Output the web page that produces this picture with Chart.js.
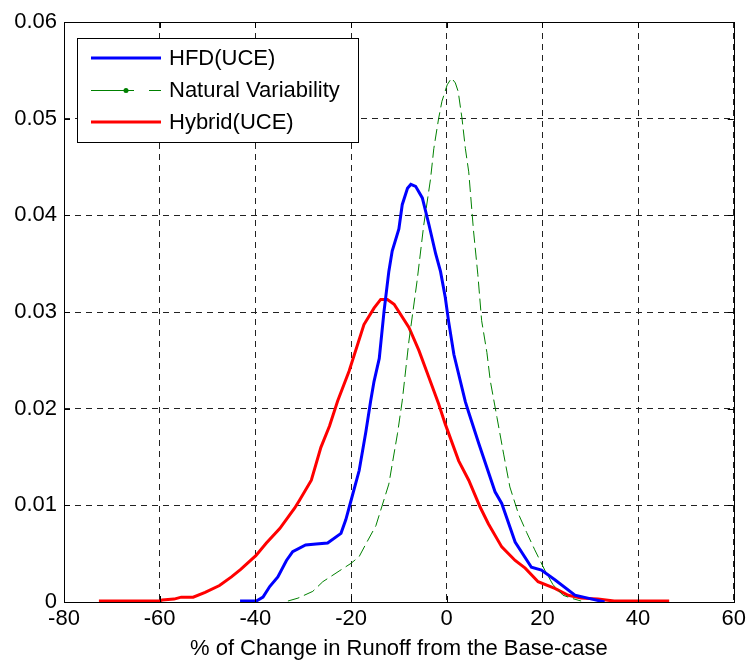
<!DOCTYPE html>
<html>
<head>
<meta charset="utf-8">
<script src="https://cdn.jsdelivr.net/npm/chart.js@4"></script>
<style>
  html, body { margin: 0; padding: 0; background: #fff; }
  #wrap { width: 750px; height: 662px; }
</style>
</head>
<body>
<div id="wrap"><canvas id="c" width="750" height="662"></canvas></div>
<script>
// values
const xTicks = [-80, -60, -40, -20, 0, 20, 40, 60];
const yTicks = [0, 0.01, 0.02, 0.03, 0.04, 0.05, 0.06];

const hfdX = [-43.2, -39.8, -38.4, -37, -35.3, -33.5, -32.2, -29.5, -27.3, -24.9, -22.1, -21.1, -20, -18.3, -16.9, -15.9, -15.2, -14.1, -13.1, -12.1, -11.4, -10, -9.3, -8.2, -7.5, -6.5, -5.1, -3.7, -2.3, -1.3, -0.3, 0.4, 1.5, 3.9, 4.6, 6.7, 10.1, 11.5, 14.3, 17.7, 19.8, 22.6, 26.8, 29.5, 33];
const hfdY = [0.0001, 0.0001, 0.0005, 0.0016, 0.0026, 0.0043, 0.0052, 0.0059, 0.0060, 0.0061, 0.0071, 0.0085, 0.0105, 0.0136, 0.0176, 0.0208, 0.0228, 0.0252, 0.0301, 0.0342, 0.0363, 0.0386, 0.0411, 0.0428, 0.0432, 0.0430, 0.0418, 0.0390, 0.0360, 0.0342, 0.0315, 0.0290, 0.0256, 0.0207, 0.0196, 0.0164, 0.0114, 0.0102, 0.0062, 0.0036, 0.0033, 0.0023, 0.0007, 0.0004, 0.0];

const natX = [-33.2, -31.1, -28, -25.9, -22.5, -20, -18.3, -16.9, -14.8, -12.1, -10.3, -9.3, -7.9, -6.2, -4.8, -3.4, -2.7, -1.7, -1, 0.1, 1, 1.8, 2.4, 3.2, 3.9, 4.6, 5.6, 6.5, 7.3, 8.4, 9.1, 10.5, 11.9, 13.2, 15, 16.7, 18.4, 20.5, 22.2, 24.3, 26, 28.1];
const natY = [0.0001, 0.0004, 0.0011, 0.0021, 0.0032, 0.0040, 0.0047, 0.0060, 0.0079, 0.0122, 0.0174, 0.0208, 0.0270, 0.0332, 0.0390, 0.0437, 0.0469, 0.0500, 0.0518, 0.0535, 0.0542, 0.0537, 0.0528, 0.0500, 0.0469, 0.0445, 0.0384, 0.0339, 0.0291, 0.0258, 0.0229, 0.0191, 0.0153, 0.0119, 0.0091, 0.0072, 0.0054, 0.0033, 0.0018, 0.0007, 0.0004, 0.0001];

const hybX = [-72.7, -60, -59.5, -57, -55.5, -53, -50.5, -47.5, -45, -43, -41, -39.9, -37.7, -34.9, -31.8, -30.8, -28.3, -26.3, -24.5, -22.8, -20.4, -17.3, -15.2, -13.8, -12.4, -11, -7.9, -5.8, -3.7, -1.7, -0.3, 2.5, 4.6, 7, 8.7, 11.5, 14.3, 16.4, 19.1, 22.6, 25.4, 28.1, 31.6, 35, 46.5];
const hybY = [0.0001, 0.0001, 0.0002, 0.0003, 0.0005, 0.0005, 0.0010, 0.0017, 0.0026, 0.0034, 0.0043, 0.0048, 0.0061, 0.0076, 0.0097, 0.0105, 0.0126, 0.0160, 0.0182, 0.0208, 0.0239, 0.0287, 0.0304, 0.0313, 0.0313, 0.0308, 0.0284, 0.0260, 0.0232, 0.0205, 0.0184, 0.0146, 0.0126, 0.0098, 0.0081, 0.0057, 0.0043, 0.0035, 0.0021, 0.0014, 0.0007, 0.0004, 0.0003, 0.0001, 0.0001];

const seriesLabels = ['HFD(UCE)', 'Natural Variability', 'Hybrid(UCE)'];

const FONT = 'Arial, "Liberation Sans", sans-serif';

function toPoints(xs, ys) {
  return xs.map((x, i) => ({ x: x, y: ys[i] }));
}

// box, inward ticks and legend, drawn like the matlab figure
const framePlugin = {
  id: 'frame',
  afterDatasetsDraw(chart) {
    const { ctx, chartArea: a, scales } = chart;
    ctx.save();
    ctx.strokeStyle = '#000';
    ctx.lineWidth = 1;
    ctx.setLineDash([]);
    ctx.beginPath();
    xTicks.forEach(v => {
      const px = Math.round(scales.x.getPixelForValue(v)) + 0.5;
      ctx.moveTo(px, a.bottom); ctx.lineTo(px, a.bottom - 6);
      ctx.moveTo(px, a.top); ctx.lineTo(px, a.top + 6);
    });
    yTicks.forEach(v => {
      const py = Math.round(scales.y.getPixelForValue(v)) + 0.5;
      ctx.moveTo(a.left, py); ctx.lineTo(a.left + 6, py);
      ctx.moveTo(a.right, py); ctx.lineTo(a.right - 6, py);
    });
    ctx.stroke();
    ctx.strokeRect(Math.round(a.left) + 0.5, Math.round(a.top) + 0.5,
      Math.round(a.right - a.left), Math.round(a.bottom - a.top));

    // legend
    const lx = 77, ly = 38, lw = 281, lh = 104;
    ctx.fillStyle = '#fff';
    ctx.fillRect(lx, ly, lw, lh);
    ctx.strokeRect(lx + 0.5, ly + 0.5, lw, lh);
    ctx.font = '22px ' + FONT;
    ctx.textBaseline = 'middle';
    ctx.textAlign = 'left';
    const rows = [58, 90, 122];
    chart.data.datasets.forEach((ds, i) => {
      const y = rows[i];
      ctx.strokeStyle = ds.borderColor;
      ctx.lineWidth = ds.borderWidth;
      ctx.beginPath();
      if (i === 1) {
        ctx.moveTo(91, y + 0.5); ctx.lineTo(134, y + 0.5);
        ctx.moveTo(149, y + 0.5); ctx.lineTo(161, y + 0.5);
        ctx.stroke();
        ctx.fillStyle = ds.borderColor;
        ctx.beginPath();
        ctx.arc(126, y + 0.5, 2.5, 0, Math.PI * 2);
        ctx.fill();
      } else {
        ctx.moveTo(91, y); ctx.lineTo(161, y);
        ctx.stroke();
      }
      ctx.fillStyle = '#000';
      ctx.fillText(ds.label, 169, y + 1);
    });
    ctx.restore();
  }
};

const ctx = document.getElementById('c').getContext('2d');
new Chart(ctx, {
  type: 'line',
  data: {
    datasets: [
      {
        label: seriesLabels[0],
        data: toPoints(hfdX, hfdY),
        borderColor: '#0000ff',
        borderWidth: 3,
        pointRadius: 0,
        tension: 0,
        fill: false
      },
      {
        label: seriesLabels[1],
        data: toPoints(natX, natY),
        borderColor: '#008000',
        borderWidth: 1,
        borderDash: [12, 5],
        pointRadius: 0,
        tension: 0,
        fill: false
      },
      {
        label: seriesLabels[2],
        data: toPoints(hybX, hybY),
        borderColor: '#ff0000',
        borderWidth: 3,
        pointRadius: 0,
        tension: 0,
        fill: false
      }
    ]
  },
  options: {
    responsive: false,
    animation: false,
    layout: { padding: { left: 0, right: 13, top: 22, bottom: 0 } },
    plugins: {
      legend: { display: false },
      tooltip: { enabled: false }
    },
    scales: {
      x: {
        type: 'linear',
        min: -80,
        max: 60,
        afterBuildTicks: scale => { scale.ticks = xTicks.map(v => ({ value: v })); },
        afterFit: scale => { scale.height = 60; },
        grid: { color: '#222', lineWidth: 1, drawTicks: false },
        border: { display: false, dash: [6, 5] },
        ticks: {
          color: '#000',
          padding: 4,
          font: { family: FONT, size: 22 },
          callback: v => String(v)
        },
        title: {
          display: true,
          text: '% of Change in Runoff from the Base-case',
          color: '#000',
          font: { family: FONT, size: 22 },
          padding: { top: 1, bottom: 0 }
        }
      },
      y: {
        type: 'linear',
        min: 0,
        max: 0.06,
        afterBuildTicks: scale => { scale.ticks = yTicks.map(v => ({ value: v })); },
        afterFit: scale => { scale.width = 64; },
        grid: { color: '#222', lineWidth: 1, drawTicks: false },
        border: { display: false, dash: [6, 5] },
        ticks: {
          color: '#000',
          padding: 7,
          font: { family: FONT, size: 22 },
          callback: v => (v === 0 ? '0' : v.toFixed(2))
        }
      }
    }
  },
  plugins: [framePlugin]
});
</script>
</body>
</html>
